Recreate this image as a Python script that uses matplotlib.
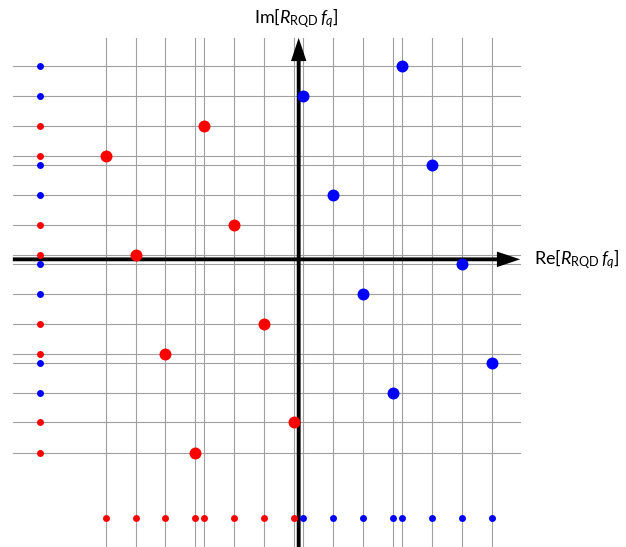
import matplotlib
matplotlib.use("Agg")
import matplotlib.pyplot as plt

plt.rcParams['mathtext.fontset'] = 'custom'
plt.rcParams['mathtext.rm'] = 'Lato'
plt.rcParams['mathtext.it'] = 'Lato:italic'
plt.rcParams['font.family'] = ['Lato', 'DejaVu Sans']

# constellation points in the complex plane
red_re = [-6.47, -5.47, -4.47, -3.47, -3.16, -2.16, -1.16, -0.16]
red_im = [3.47, 0.15, -3.17, -6.48, 4.47, 1.16, -2.16, -5.47]
blue_re = [0.16, 1.16, 2.16, 3.16, 3.47, 4.47, 5.47, 6.47]
blue_im = [5.47, 2.16, -1.16, -4.47, 6.48, 3.17, -0.15, -3.47]

# where the projections onto each axis are drawn
proj = -8.67
x_lo, x_hi = -9.59, 7.43
y_lo, y_hi = -9.8, 7.43

fig = plt.figure(figsize=(6.26, 5.47), dpi=100)
ax = fig.add_axes([0, 0, 1, 1])
ax.set_xlim(-10.02, 10.98)
ax.set_ylim(-9.65, 8.70)
ax.axis('off')

grid_kw = dict(color='#a0a0a0', lw=0.8, zorder=1)
for x in red_re + blue_re:
    ax.plot([x, x], [y_lo, y_hi], **grid_kw)
for y in red_im + blue_im:
    ax.plot([x_lo, x_hi], [y, y], **grid_kw)

# axes with arrow heads
arrow_kw = dict(width=0.13, head_width=0.52, head_length=0.78, lw=0,
                length_includes_head=True, color='black', zorder=3)
ax.arrow(x_lo, 0, x_hi - x_lo, 0, **arrow_kw)
ax.arrow(0, y_lo, 0, y_hi - y_lo, **arrow_kw)

ax.plot(red_re, red_im, 'o', color='red', ms=8.6, mec='none', zorder=4)
ax.plot(blue_re, blue_im, 'o', color='blue', ms=8.6, mec='none', zorder=4)

# projections
ax.plot([proj] * len(red_im), red_im, 'o', color='red', ms=5, mec='none', zorder=4)
ax.plot([proj] * len(blue_im), blue_im, 'o', color='blue', ms=5, mec='none', zorder=4)
ax.plot(red_re, [proj] * len(red_re), 'o', color='red', ms=5, mec='none', zorder=4)
ax.plot(blue_re, [proj] * len(blue_re), 'o', color='blue', ms=5, mec='none', zorder=4)

ax.text(7.9, 0, r'$\mathrm{Re}[R_{\mathrm{RQD}}\, f_q]$', fontsize=13,
        ha='left', va='center')
ax.text(-1.5, 8.1, r'$\mathrm{Im}[R_{\mathrm{RQD}}\, f_q]$', fontsize=13,
        ha='left', va='center')

fig.savefig('out.png', dpi=100)
